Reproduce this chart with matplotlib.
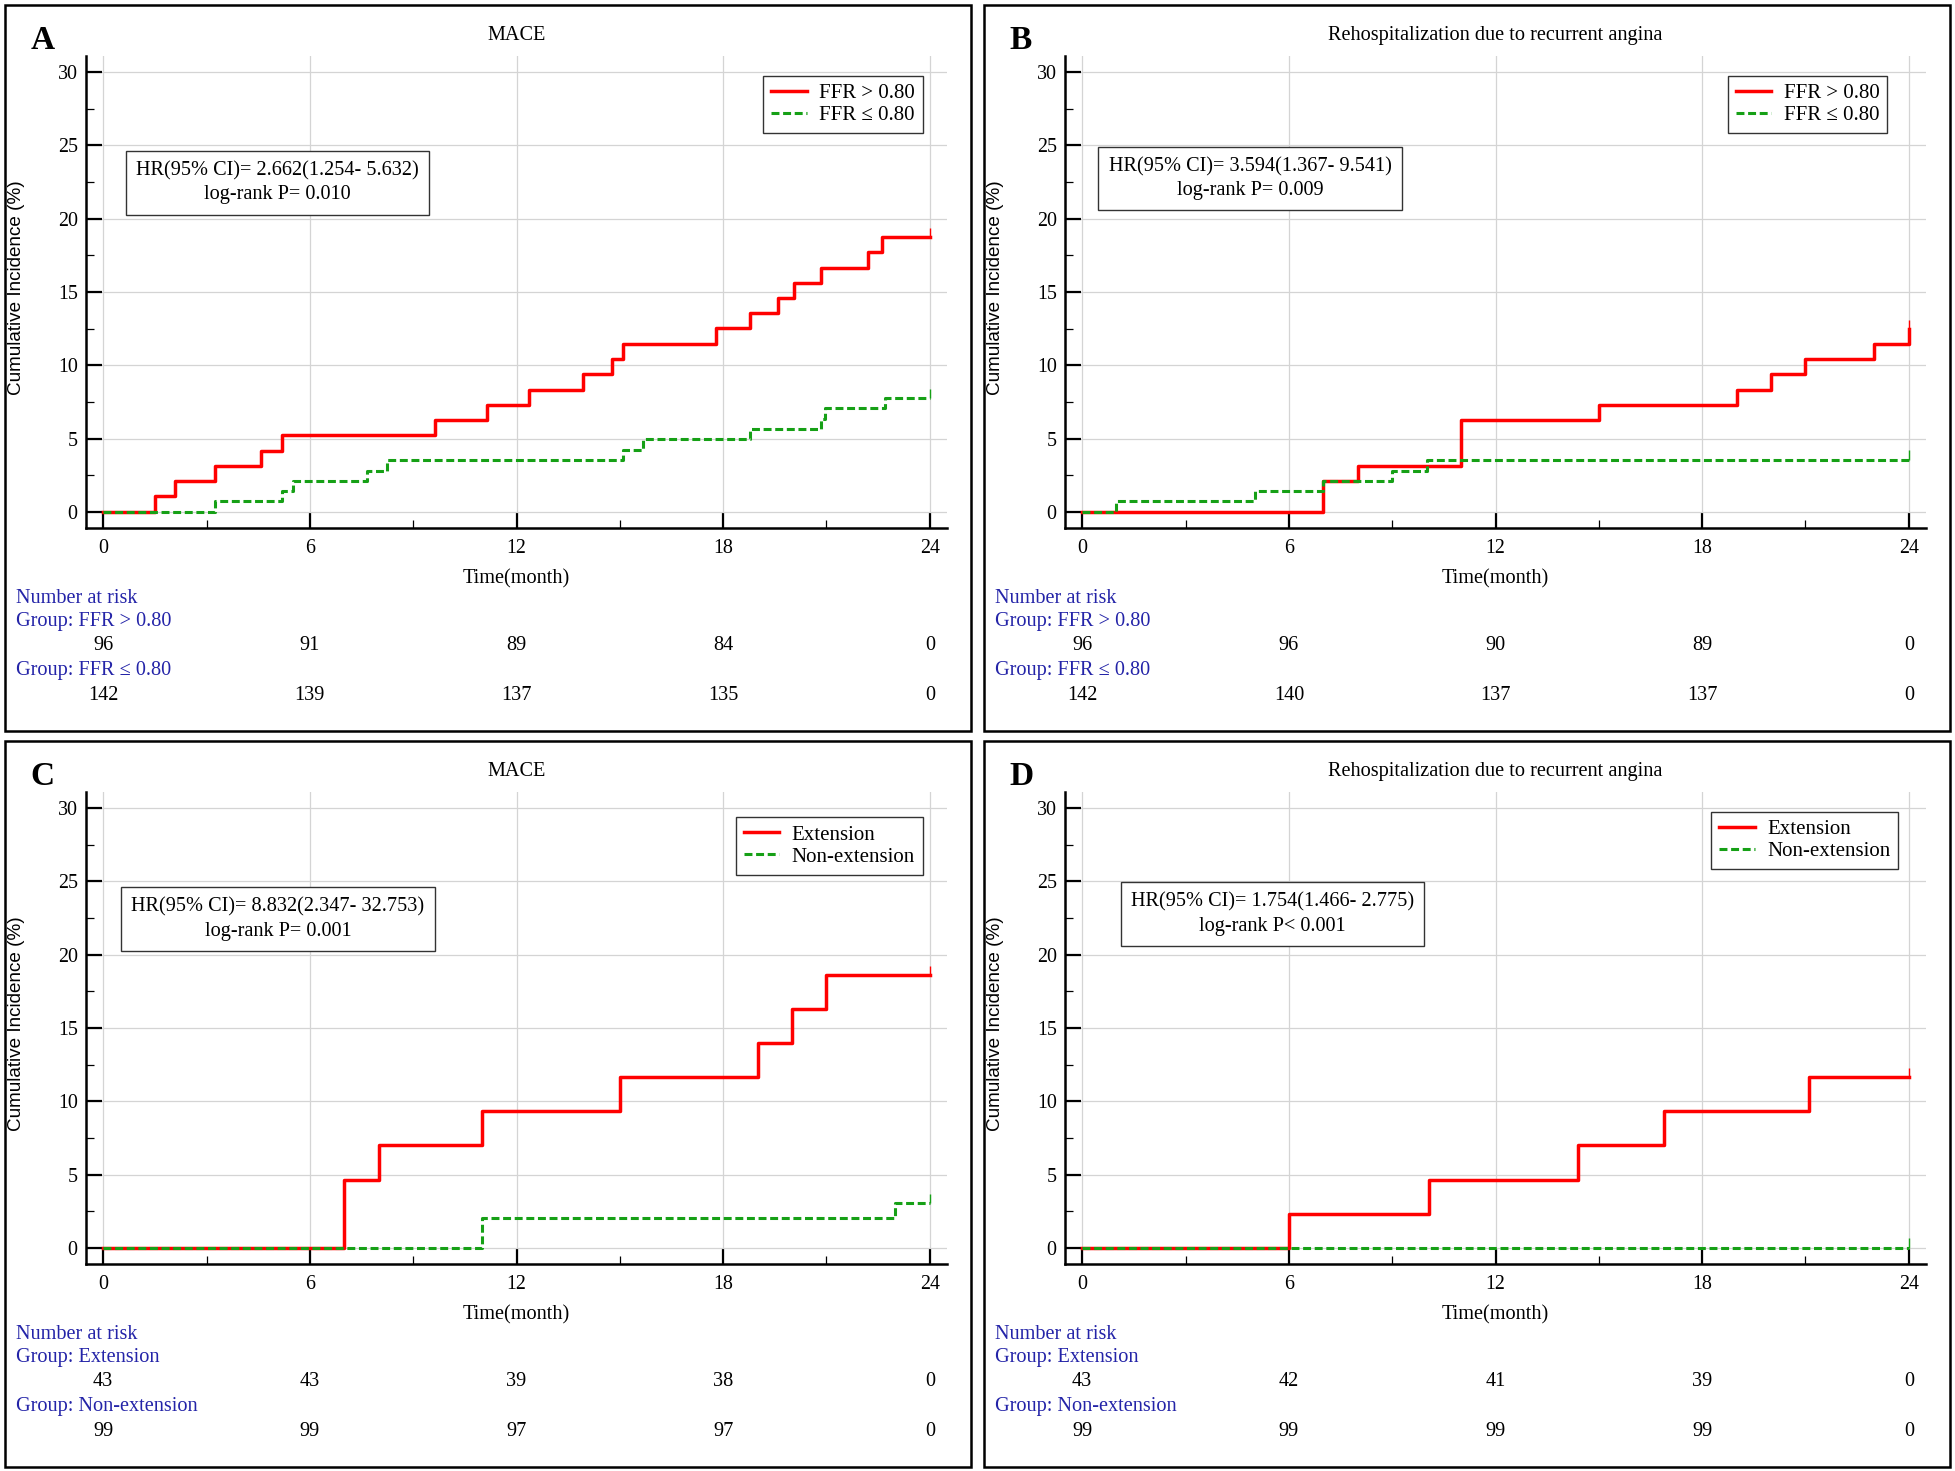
import numpy as np
import matplotlib
matplotlib.use('Agg')
import matplotlib.pyplot as plt
from matplotlib.patches import Rectangle
from matplotlib.transforms import blended_transform_factory

plt.rcParams['font.family'] = ['Liberation Serif', 'DejaVu Serif']
plt.rcParams['font.size'] = 14.6

# ---- data ----
month_ticks = [0, 6, 12, 18, 24]

a_t_red = [0, 1.5, 2.07, 3.25, 4.59, 5.19, 9.62, 11.13, 12.36, 13.92, 14.77, 15.08,
           17.79, 18.77, 19.6, 20.05, 20.85, 22.21, 22.61, 24]
a_y_red = [0, 1.06, 2.09, 3.11, 4.17, 5.23, 6.26, 7.31, 8.34, 9.40, 10.43, 11.45,
           12.51, 13.57, 14.6, 15.62, 16.65, 17.71, 18.77, 18.77]
a_t_green = [0, 3.25, 5.2, 5.5, 7.66, 8.24, 15.08, 15.66, 18.77, 20.85, 20.95, 22.7, 24]
a_y_green = [0, 0.74, 1.41, 2.12, 2.82, 3.53, 4.23, 4.94, 5.65, 6.35, 7.06, 7.76, 7.76]
a_censor = [19.4, 8.4]

b_t_red = [0, 7.0, 8.0, 11.0, 15.0, 19.0, 20.0, 21.0, 23.0, 24]
b_y_red = [0, 2.09, 3.14, 6.26, 7.31, 8.34, 9.40, 10.43, 11.45, 12.45]
b_t_green = [0, 0.99, 5.02, 6.99, 8.99, 10.0, 24]
b_y_green = [0, 0.74, 1.41, 2.12, 2.82, 3.53, 3.53]
b_censor = [13.1, 4.2]

c_t_red = [0, 7.0, 8.0, 11.0, 15.0, 19.0, 20.0, 21.0, 24]
c_y_red = [0, 4.66, 7.0, 9.33, 11.63, 13.96, 16.3, 18.63, 18.63]
c_t_green = [0, 11.0, 23.0, 24]
c_y_green = [0, 2.04, 3.07, 3.07]
c_censor = [19.2, 3.7]

d_t_red = [0, 6.0, 10.07, 14.4, 16.9, 21.1, 24]
d_y_red = [0, 2.33, 4.66, 7.0, 9.33, 11.63, 11.63]
d_t_green = [0, 24]
d_y_green = [0, 0]
d_censor = [12.3, 0.7]

a_risk = [[96, 91, 89, 84, 0], [142, 139, 137, 135, 0]]
b_risk = [[96, 96, 90, 89, 0], [142, 140, 137, 137, 0]]
c_risk = [[43, 43, 39, 38, 0], [99, 99, 97, 97, 0]]
d_risk = [[43, 42, 41, 39, 0], [99, 99, 99, 99, 0]]

ffr_groups = ['FFR > 0.80', 'FFR \u2264 0.80']
ext_groups = ['Extension', 'Non-extension']

hr_texts = ['HR(95% CI)= 2.662(1.254- 5.632)\nlog-rank P= 0.010',
            'HR(95% CI)= 3.594(1.367- 9.541)\nlog-rank P= 0.009',
            'HR(95% CI)= 8.832(2.347- 32.753)\nlog-rank P= 0.001',
            'HR(95% CI)= 1.754(1.466- 2.775)\nlog-rank P< 0.001']
titles = ['MACE', 'Rehospitalization due to recurrent angina',
          'MACE', 'Rehospitalization due to recurrent angina']
letters = ['A', 'B', 'C', 'D']

# ---- figure ----
W, H = 1955, 1471
fig = plt.figure(figsize=(W / 100, H / 100), dpi=100)

RED = '#ff0000'
GREEN = '#16a016'
BLUE = '#2424a8'
FS = 14.6

panels = [
    (0, 0, a_t_red, a_y_red, a_t_green, a_y_green, a_censor, a_risk, ffr_groups,
     (5.05, 22.45), (0.972, 0.958)),
    (979, 0, b_t_red, b_y_red, b_t_green, b_y_green, b_censor, b_risk, ffr_groups,
     (4.87, 22.74), (0.955, 0.958)),
    (0, 736, c_t_red, c_y_red, c_t_green, c_y_green, c_censor, c_risk, ext_groups,
     (5.07, 22.43), (0.972, 0.947)),
    (979, 736, d_t_red, d_y_red, d_t_green, d_y_green, d_censor, d_risk, ext_groups,
     (5.52, 22.78), (0.968, 0.958)),
]

for i, (dx, dy, tr, yr, tg, yg, cens, risk, groups, hr_pos, leg_pos) in enumerate(panels):
    # panel frame
    fig.add_artist(Rectangle(((5 + dx) / W, 1 - (731 + dy) / H), 966 / W, 726 / H,
                             transform=fig.transFigure, fill=False,
                             edgecolor='black', linewidth=1.8))

    left, top, right, bottom = 86 + dx, 56 + dy, 947 + dx, 528 + dy
    ax = fig.add_axes([left / W, 1 - bottom / H, (right - left) / W, (bottom - top) / H])

    ax.step(tr, yr, where='post', color=RED, lw=2.5, label=groups[0], zorder=3)
    ax.step(tg, yg, where='post', color=GREEN, lw=2.2, linestyle=(0, (2.6, 1.2)),
            label=groups[1], zorder=3)
    ax.vlines([tr[-1]], yr[-1], cens[0], color=RED, lw=1.0, zorder=3)
    ax.vlines([tg[-1]], yg[-1], cens[1], color=GREEN, lw=1.0, zorder=3)

    ax.set_xlim(-0.5, 24.5)
    ax.set_ylim(-1.1, 31.1)
    ax.set_xticks(month_ticks)
    ax.set_xticks([3, 9, 15, 21], minor=True)
    ax.set_yticks(np.arange(0, 31, 5))
    ax.set_yticks(np.arange(2.5, 30, 5), minor=True)
    ax.tick_params(which='major', direction='in', length=11.5, width=1.6, labelsize=14.4,
                   pad=6)
    ax.tick_params(axis='x', which='major', pad=8)
    ax.tick_params(which='minor', direction='in', length=5.5, width=0.9)
    ax.grid(True, which='major', color='#d4d4d4', linewidth=0.9, zorder=0)
    ax.set_axisbelow(True)
    for s in ['top', 'right']:
        ax.spines[s].set_visible(False)
    for s in ['left', 'bottom']:
        ax.spines[s].set_linewidth(1.8)

    ax.set_ylabel('Cumulative Incidence (%)', family=['Liberation Sans', 'DejaVu Sans'],
                  fontsize=13.6)
    ax.yaxis.set_label_coords(-0.071, 0.51)

    ax.text(0.5, 1.044, titles[i], transform=ax.transAxes, ha='center', va='center',
            fontsize=FS)
    ax.text(-2.12, 1.033, letters[i], transform=blended_transform_factory(ax.transData, ax.transAxes),
            ha='left', va='center', fontsize=24, fontweight='bold')

    ax.text(hr_pos[0], hr_pos[1], hr_texts[i], ha='center', va='center', fontsize=FS,
            linespacing=1.35,
            bbox=dict(boxstyle='square,pad=0.5', facecolor='white', edgecolor='#333333',
                      linewidth=1.0), zorder=4)

    leg = ax.legend(loc='upper right', bbox_to_anchor=leg_pos, borderaxespad=0,
                    fancybox=False, framealpha=1, edgecolor='#333333', fontsize=15,
                    handlelength=1.7, handletextpad=0.6, labelspacing=0.12,
                    borderpad=0.38)
    leg.get_frame().set_linewidth(1.0)

    trans = blended_transform_factory(ax.transData, ax.transAxes)
    ax.text(0.5, -0.108, 'Time(month)', transform=ax.transAxes, ha='center', va='center',
            fontsize=FS)
    ax.text(-2.52, -0.149, 'Number at risk', transform=trans, ha='left', va='center',
            color=BLUE, fontsize=FS)
    ax.text(-2.52, -0.199, 'Group: ' + groups[0], transform=trans, ha='left', va='center',
            color=BLUE, fontsize=FS)
    ax.text(-2.52, -0.301, 'Group: ' + groups[1], transform=trans, ha='left', va='center',
            color=BLUE, fontsize=FS)
    for m, n1, n2 in zip(month_ticks, risk[0], risk[1]):
        ax.text(m, -0.250, str(n1), transform=trans, ha='center', va='center', fontsize=FS)
        ax.text(m, -0.354, str(n2), transform=trans, ha='center', va='center', fontsize=FS)

fig.savefig('out.png', dpi=100, facecolor='white')
